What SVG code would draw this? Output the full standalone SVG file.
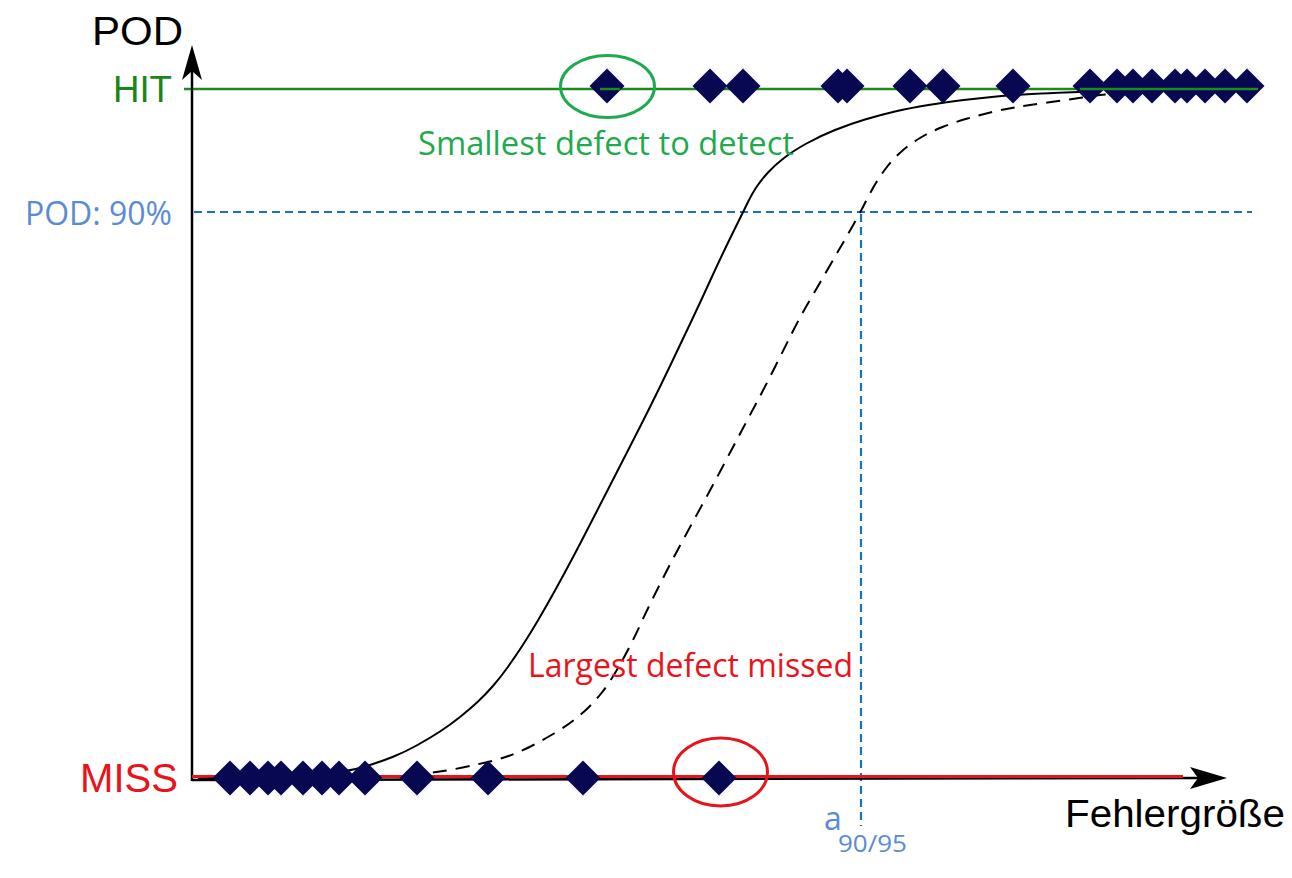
<svg xmlns="http://www.w3.org/2000/svg" width="1292" height="878" viewBox="0 0 1292 878">
  <style>
    .ax { stroke:#000; stroke-width:2.5; fill:none; }
    .hit { stroke:#1e8a1e; stroke-width:2.5; fill:none; }
    .miss { stroke:#e8141b; stroke-width:3; fill:none; }
    .bdash { stroke:#1a72bd; stroke-width:2.2; stroke-dasharray:8 5; fill:none; }
    .curve { stroke:#000; stroke-width:2; fill:none; stroke-linejoin:round; }
    .curve-d { stroke:#000; stroke-width:2; fill:none; stroke-dasharray:14 9; }
    .arial { font-family:"Liberation Sans", Arial, sans-serif; }
    .cal { font-family:"Open Sans", "Liberation Sans", sans-serif; }
  </style>
  <defs>
    <polygon id="dia" points="0,-17.5 17.5,0 0,17.5 -17.5,0" fill="#070752"/>
  </defs>

  <g id="grid-lines">
    <line class="hit" x1="184" y1="89" x2="1258" y2="89"/>
    <line class="bdash" x1="194" y1="212" x2="1252" y2="212"/>
    <line class="bdash" x1="861" y1="214" x2="861" y2="826"/>
  </g>

  <g id="axes">
    <line class="ax" x1="192" y1="781" x2="192" y2="62"/>
    <path d="M192,45 L202,80 L192,71 L182,80 Z" fill="#000"/>
    <line class="ax" x1="192" y1="780" x2="1205" y2="778"/>
    <path d="M1227,778 L1190,767 L1198,778 L1190,789 Z" fill="#000"/>
    <line class="miss" x1="192" y1="776.5" x2="1183" y2="776.5"/>
  </g>

  <g id="connectors">
    <path id="pod-curve" class="curve" d="M198,779 L229,778.25 Q260,777.5 285,776.25 Q310,775 330,773 Q350,771 365,766.5 Q380,762 392.5,757 Q405,752 417.5,745 Q430,738 440,731.5 Q450,725 460,717 Q470,709 477.5,702 Q485,695 492.5,686.5 Q500,678 507.5,667.5 Q515,657 522.5,645.5 Q530,634 538.5,619.5 Q547,605 555,590.5 Q563,576 571.5,560 Q580,544 590,524.5 Q600,505 610,485.5 Q620,466 630,446.5 Q640,427 650,407 Q660,387 670,366 Q680,345 690,324 Q700,303 710,281 Q720,259 731.5,235.5 Q743,212 748,202 Q753,192 757.5,185.5 Q762,179 768.5,172 Q775,165 784,158 Q793,151 806.5,143.5 Q820,136 835,130 Q850,124 865,119.5 Q880,115 895,111.5 Q910,108 928.5,105 Q947,102 963.5,100 Q980,98 996.5,96.5 Q1013,95 1031.5,94 Q1050,93 1065,92.5 Q1080,92 1090,91.5 L1100,91"/>
    <path id="conf-curve" class="curve-d" d="M410,775 L425,773.5 Q440,772 455,769 Q470,766 483.5,763 Q497,760 508.5,756 Q520,752 531.5,746 Q543,740 554,733.5 Q565,727 574,720 Q583,713 589.5,706.5 Q596,700 601.5,693 Q607,686 612,678 Q617,670 622,661 Q627,652 632,642 Q637,632 642,621 Q647,610 657.5,589 Q668,568 679,547.5 Q690,527 701,507 Q712,487 722.5,467 Q733,447 741.5,431 Q750,415 758.5,399 Q767,383 775.5,366 Q784,349 792,333 Q800,317 808.5,302.5 Q817,288 825,274 Q833,260 840,248 Q847,236 853.5,224.5 Q860,213 865,203 Q870,193 875,184.5 Q880,176 886.5,167.5 Q893,159 901.5,151.5 Q910,144 920,138 Q930,132 942.5,127 Q955,122 967.5,118.5 Q980,115 992.5,112 Q1005,109 1017.5,107 Q1030,105 1047.5,102.5 Q1065,100 1082.5,97.5 Q1100,95 1105,94.5 L1110,94"/>
  </g>

  <g id="hit-points">
    <use href="#dia" x="607" y="86"/>
    <use href="#dia" x="710" y="86"/>
    <use href="#dia" x="743" y="86"/>
    <use href="#dia" x="838" y="86"/>
    <use href="#dia" x="847" y="86"/>
    <use href="#dia" x="910" y="86"/>
    <use href="#dia" x="943" y="86"/>
    <use href="#dia" x="1013" y="86"/>
    <use href="#dia" x="1090" y="86"/>
    <use href="#dia" x="1117" y="86"/>
    <use href="#dia" x="1133" y="86"/>
    <use href="#dia" x="1152" y="86"/>
    <use href="#dia" x="1175" y="86"/>
    <use href="#dia" x="1187" y="86"/>
    <use href="#dia" x="1205" y="86"/>
    <use href="#dia" x="1225" y="86"/>
    <use href="#dia" x="1247" y="86"/>
    <line x1="1080" y1="89" x2="1258" y2="89" stroke="#1e8a1e" stroke-width="2.5"/>
    <line x1="600" y1="89" x2="620" y2="89" stroke="#1e8a1e" stroke-width="2.5"/>
  </g>

  <g id="miss-points">
    <use href="#dia" x="230" y="778"/>
    <use href="#dia" x="250" y="778"/>
    <use href="#dia" x="268" y="778"/>
    <use href="#dia" x="281" y="778"/>
    <use href="#dia" x="303" y="778"/>
    <use href="#dia" x="322" y="778"/>
    <use href="#dia" x="339" y="778"/>
    <use href="#dia" x="365" y="778"/>
    <use href="#dia" x="417" y="778"/>
    <use href="#dia" x="488" y="778"/>
    <use href="#dia" x="583" y="778"/>
    <use href="#dia" x="719" y="778"/>
  </g>

  <g id="highlight-smallest">
    <ellipse cx="607.5" cy="86.5" rx="47" ry="31" fill="none" stroke="#1faa50" stroke-width="3"/>
    <text class="cal" x="418" y="155" font-size="33" fill="#1faa50" textLength="376" lengthAdjust="spacingAndGlyphs">Smallest defect to detect</text>
  </g>

  <g id="highlight-largest">
    <ellipse cx="720.5" cy="772" rx="47" ry="34" fill="none" stroke="#e8141b" stroke-width="3"/>
    <text class="cal" x="528" y="677" font-size="33" fill="#e8141b" textLength="325" lengthAdjust="spacingAndGlyphs">Largest defect missed</text>
  </g>

  <g id="labels">
    <text class="arial" x="92" y="45" font-size="40" fill="#000" textLength="91" lengthAdjust="spacingAndGlyphs">POD</text>
    <text class="arial" x="113" y="102" font-size="37" fill="#1a861a" textLength="59" lengthAdjust="spacingAndGlyphs">HIT</text>
    <text class="arial" x="80" y="792" font-size="40" fill="#e8141b" textLength="98" lengthAdjust="spacingAndGlyphs">MISS</text>
    <text class="arial" x="1065" y="827" font-size="39" fill="#000" textLength="220" lengthAdjust="spacingAndGlyphs">Fehlergröße</text>
    <text class="cal" x="25" y="225" font-size="32" fill="#5a8cd4" textLength="147" lengthAdjust="spacingAndGlyphs">POD: 90%</text>
    <text class="cal" x="824" y="830" font-size="32" fill="#5a8cd4">a</text>
    <text class="cal" x="838" y="852" font-size="24" fill="#5a8cd4" textLength="69" lengthAdjust="spacingAndGlyphs">90/95</text>
  </g>
</svg>
